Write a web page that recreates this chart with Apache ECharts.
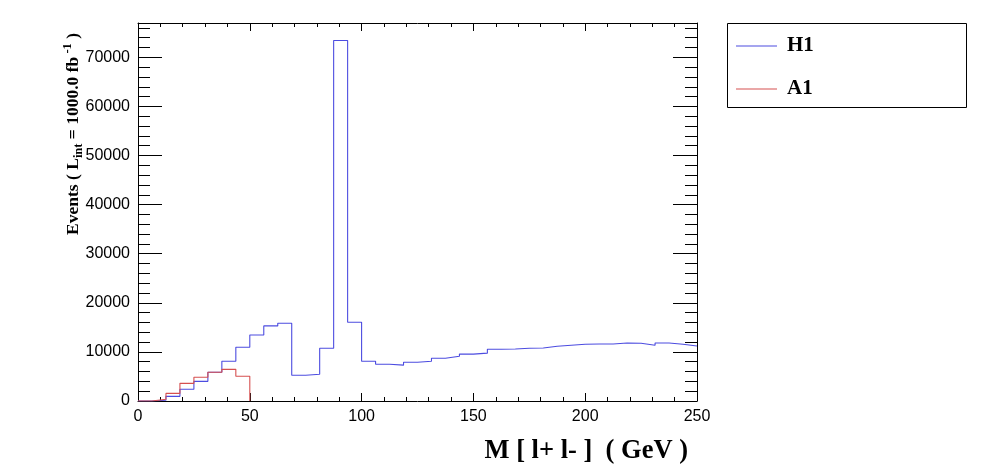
<!DOCTYPE html>
<html>
<head>
<meta charset="utf-8">
<script src="https://cdn.jsdelivr.net/npm/echarts@6/dist/echarts.min.js"></script>
<style>
  html, body { margin: 0; padding: 0; background: #fff; }
  #chart { width: 996px; height: 472px; }
</style>
</head>
<body>
<div id="chart"></div>
<script>
// bin low edges, M[l+l-] in GeV (bin width 6.25)
var binEdges = [0, 6.25, 12.5, 18.75, 25, 31.25, 37.5, 43.75, 50, 56.25,
  62.5, 68.75, 75, 81.25, 87.5, 93.75, 100, 106.25, 112.5, 118.75,
  125, 131.25, 137.5, 143.75, 150, 156.25, 162.5, 168.75, 175, 181.25,
  187.5, 193.75, 200, 206.25, 212.5, 218.75, 225, 231.25, 237.5, 243.75, 250];

// events per bin
var h1Values = [0, 150, 950, 2400, 4000, 5850, 8100, 10950, 13450, 15300,
  15850, 5250, 5450, 10750, 73450, 16050, 8100, 7500, 7300, 7900,
  8100, 8700, 9100, 9550, 9750, 10550, 10600, 10750, 10800, 11150,
  11350, 11550, 11600, 11600, 11800, 11750, 11350, 11800, 11550, 11200];
var a1Values = [0, 350, 1550, 3600, 4850, 5850, 6450, 5050];

var xTicks = [0, 50, 100, 150, 200, 250];
var yTicks = [0, 10000, 20000, 30000, 40000, 50000, 60000, 70000];

var blue = '#4c4ce0';
var red = '#d65050';
var serif = '"Liberation Serif", "DejaVu Serif", serif';
var sans = '"Liberation Sans", Arial, sans-serif';

// step points: left edge of each bin, closed at the last edge
function histPoints(vals, closeToZero) {
  var pts = [];
  for (var i = 0; i < vals.length; i++) pts.push([binEdges[i], vals[i]]);
  pts.push([binEdges[vals.length], closeToZero ? 0 : vals[vals.length - 1]]);
  return pts;
}

var yMax = 77000;

var chart = echarts.init(document.getElementById('chart'), null, { renderer: 'canvas' });

function yTickAxis(pos, interval, len, withLine) {
  return {
    type: 'value', position: pos, offset: 0, min: 0, max: yMax, interval: interval,
    axisLine: { show: withLine, onZero: false, lineStyle: { color: '#000', width: 1 } },
    axisTick: { show: true, inside: true, length: len, lineStyle: { color: '#000' } },
    axisLabel: { show: false },
    splitLine: { show: false }
  };
}

chart.setOption({
  animation: false,
  backgroundColor: '#fff',
  grid: { left: 138, top: 23, width: 559, height: 378 },
  xAxis: [
    {
      type: 'value', position: 'bottom', offset: 0, min: xTicks[0], max: xTicks[xTicks.length - 1], interval: 50,
      axisLine: { onZero: false, lineStyle: { color: '#000', width: 1 } },
      axisTick: { inside: true, length: 8, lineStyle: { color: '#000' } },
      minorTick: { show: true, splitNumber: 5, length: 4, lineStyle: { color: '#000' } },
      axisLabel: { color: '#000', fontFamily: sans, fontSize: 16, margin: 8 },
      splitLine: { show: false }
    },
    {
      type: 'value', position: 'top', offset: 0, min: 0, max: 250, interval: 50,
      axisLine: { onZero: false, lineStyle: { color: '#000', width: 1 } },
      axisTick: { inside: true, length: 8, lineStyle: { color: '#000' } },
      minorTick: { show: true, splitNumber: 5, length: 4, lineStyle: { color: '#000' } },
      axisLabel: { show: false },
      splitLine: { show: false }
    }
  ],
  yAxis: [
    {
      type: 'value', position: 'left', offset: 0, min: yTicks[0], max: yMax, interval: 10000,
      axisLine: { show: true, onZero: false, lineStyle: { color: '#000', width: 1 } },
      axisTick: { show: true, inside: true, length: 24, lineStyle: { color: '#000' } },
      axisLabel: {
        color: '#000', fontFamily: sans, fontSize: 16, margin: 8, showMaxLabel: false,
        formatter: function (v) { return String(v); }
      },
      splitLine: { show: false }
    },
    yTickAxis('left', 2000, 12, false),
    yTickAxis('right', 10000, 24, true),
    yTickAxis('right', 2000, 12, false)
  ],
  legend: {
    orient: 'vertical',
    left: 736,
    top: 35,
    padding: 0,
    icon: 'rect',
    itemWidth: 41,
    itemHeight: 1,
    itemGap: 21,
    textStyle: { color: '#000', fontFamily: serif, fontWeight: 'bold', fontSize: 21, lineHeight: 22, padding: [0, 0, 0, 5] },
    data: ['H1', 'A1']
  },
  graphic: [
    {
      type: 'rect', z: 0,
      shape: { x: 727.5, y: 23.5, width: 239, height: 84 },
      style: { fill: '#fff', stroke: '#000', lineWidth: 1 }
    },
    {
      type: 'text', x: 73, y: 33, rotation: Math.PI / 2,
      style: {
        text: '{n|Events ( L}{sub|int}{n| = 1000.0 fb}{sup| -1}{n| )}',
        align: 'right', verticalAlign: 'middle', fill: '#000',
        rich: {
          n: { fontFamily: serif, fontWeight: 'bold', fontSize: 17.5, lineHeight: 24, fill: '#000' },
          sub: { fontFamily: serif, fontWeight: 'bold', fontSize: 12.5, lineHeight: 12, verticalAlign: 'bottom', fill: '#000' },
          sup: { fontFamily: serif, fontWeight: 'bold', fontSize: 12.5, lineHeight: 12, verticalAlign: 'top', fill: '#000' }
        }
      }
    },
    {
      type: 'text', x: 688, y: 451,
      style: {
        text: 'M [ l+ l- ]  ( GeV )',
        align: 'right', verticalAlign: 'middle', fill: '#000',
        font: 'bold 26.5px ' + serif
      }
    }
  ],
  series: [
    {
      name: 'H1', type: 'line', step: 'end', xAxisIndex: 0, yAxisIndex: 0,
      data: histPoints(h1Values, false),
      symbol: 'none', showSymbol: false,
      lineStyle: { color: blue, width: 1.1 },
      itemStyle: { color: blue },
      z: 3
    },
    {
      name: 'A1', type: 'line', step: 'end', xAxisIndex: 0, yAxisIndex: 0,
      data: histPoints(a1Values, true),
      symbol: 'none', showSymbol: false,
      lineStyle: { color: red, width: 1.1 },
      itemStyle: { color: red },
      z: 4
    }
  ]
});
</script>
</body>
</html>
